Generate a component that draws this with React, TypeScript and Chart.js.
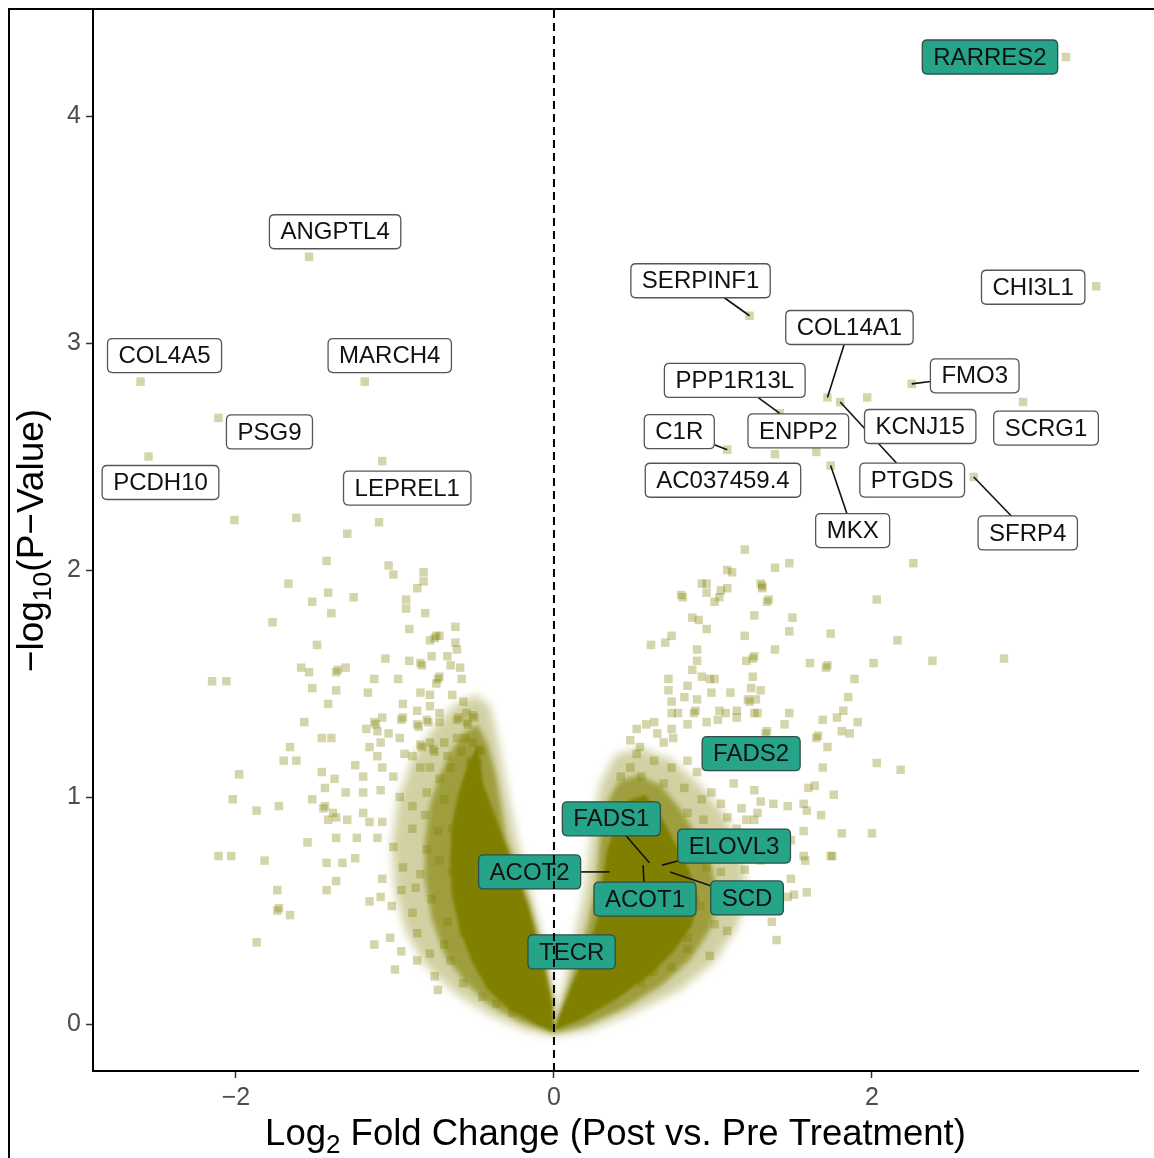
import { useEffect, useRef } from 'react';
import { Chart, registerables } from 'chart.js';

Chart.register(...registerables);

const FONT = '"Liberation Sans", Arial, Helvetica, sans-serif';

// Axis extents and tick values
const xRange = [-2.899, 3.673];
const yRange = [-0.207, 4.467];
const xTicks = [-2, 0, 2];
const yTicks = [0, 1, 2, 3, 4];

// Individual genes: [log2 fold change, -log10 p]
const leftGenes: [number, number][] = [
  [-2.01, 2.22], [-1.62, 2.23], [-1.30, 2.16], [-1.10, 2.21],
  [-1.43, 2.04], [-1.67, 1.94], [-1.42, 1.90], [-1.52, 1.86], [-1.40, 1.81], [-1.77, 1.77], [-1.49, 1.67],
  [-2.15, 1.51], [-2.06, 1.51], [-1.59, 1.57], [-1.54, 1.55], [-1.37, 1.55], [-1.36, 1.56], [-1.52, 1.48],
  [-1.37, 1.47], [-1.42, 1.41], [-1.57, 1.33], [-1.46, 1.26], [-1.40, 1.26], [-1.66, 1.22], [-1.70, 1.16],
  [-1.62, 1.16], [-1.98, 1.10], [-1.46, 1.11], [-1.38, 1.08], [-1.44, 1.04], [-2.02, 0.99], [-1.87, 0.94],
  [-1.73, 0.96], [-1.52, 0.99], [-1.45, 0.95], [-1.44, 0.96], [-1.42, 0.90], [-1.37, 0.91], [-1.55, 0.80],
  [-1.37, 0.82], [-2.11, 0.74], [-2.03, 0.74], [-1.82, 0.72], [-1.43, 0.71], [-1.37, 0.63], [-1.74, 0.59],
  [-1.43, 0.59], [-1.74, 0.50], [-1.73, 0.51], [-1.66, 0.48], [-1.87, 0.36],
  [-1.04, 2.02], [-1.01, 1.98], [-0.82, 1.99], [-0.82, 1.95], [-0.86, 1.92], [-1.26, 1.88], [-0.93, 1.87],
  [-0.93, 1.83], [-0.81, 1.81], [-0.91, 1.74], [-0.62, 1.75], [-0.74, 1.71], [-0.75, 1.70], [-0.78, 1.69],
  [-0.72, 1.71], [-0.62, 1.68], [-0.61, 1.65], [-1.06, 1.61], [-0.91, 1.60], [-0.84, 1.59], [-0.83, 1.58],
  [-0.77, 1.62], [-0.67, 1.62], [-0.65, 1.58], [-0.59, 1.57], [-1.31, 1.57], [-1.13, 1.52], [-0.98, 1.52],
  [-0.58, 1.52], [-0.73, 1.52], [-0.72, 1.53], [-0.74, 1.50], [-1.17, 1.46], [-0.84, 1.46], [-0.78, 1.45],
  [-0.64, 1.45], [-0.95, 1.41], [-0.78, 1.40], [-0.57, 1.42], [-0.86, 1.38], [-0.72, 1.37], [-0.60, 1.35],
  [-0.61, 1.34], [-0.55, 1.37], [-0.51, 1.36], [-0.50, 1.35], [-0.96, 1.34], [-0.95, 1.35], [-1.13, 1.33],
  [-1.12, 1.32], [-1.08, 1.35], [-0.86, 1.32], [-0.85, 1.31], [-0.80, 1.34], [-0.79, 1.33], [-0.55, 1.33],
  [-0.54, 1.32], [-0.72, 1.33], [-1.18, 1.30], [-1.04, 1.28], [-1.11, 1.29], [-0.97, 1.26], [-0.78, 1.24],
  [-0.69, 1.24], [-0.61, 1.26], [-0.56, 1.26], [-0.51, 1.24], [-1.09, 1.24], [-0.84, 1.23], [-0.83, 1.22],
  [-0.76, 1.21], [-0.75, 1.20], [-0.47, 1.21], [-0.46, 1.20], [-1.16, 1.22], [-0.94, 1.19], [-0.89, 1.18],
  [-1.11, 1.18], [-0.67, 1.18], [-0.58, 1.20], [-0.53, 1.15], [-0.52, 1.16], [-0.48, 1.15], [-0.49, 1.14],
  [-1.25, 1.14], [-1.08, 1.13], [-0.84, 1.13], [-0.78, 1.13], [-0.65, 1.13],
  [-1.20, 1.09], [-1.31, 1.02], [-1.20, 1.02], [-1.09, 1.03], [-1.01, 1.09], [-1.39, 0.93], [-1.30, 0.90],
  [-1.20, 0.93], [-1.16, 0.89], [-1.08, 0.89], [-1.24, 0.82], [-1.11, 0.82], [-1.01, 0.78], [-1.25, 0.73],
  [-1.33, 0.71], [-1.08, 0.64], [-1.16, 0.54], [-1.09, 0.56], [-1.02, 0.52], [-0.96, 0.59], [-0.89, 0.49],
  [-1.13, 0.35], [-1.03, 0.38], [-0.96, 0.32], [-1.00, 0.24], [-0.86, 0.28], [-0.75, 0.21], [-0.73, 0.15],
  [-0.86, 0.40], [-0.78, 0.31], [-0.89, 0.86], [-0.80, 0.77], [-0.95, 0.69], [-0.87, 0.60], [-0.89, 0.96],
  [-0.97, 1.00], [-0.80, 1.02], [-0.72, 1.08], [-0.57, 0.40], [-0.65, 0.28], [-0.57, 0.18], [-0.45, 0.12],
  [-0.36, 0.09], [-0.26, 0.05],
  [-0.69, 0.99], [-0.64, 0.86], [-0.72, 0.72], [-0.77, 0.55], [-0.67, 0.45], [-0.81, 0.92], [-0.73, 0.85],
  [-0.64, 0.67], [-0.69, 0.35], [-0.84, 0.66],
];

const rightGenes: [number, number][] = [
  [1.20, 2.09], [1.09, 2.00], [1.12, 1.99], [1.39, 2.01], [1.48, 2.03], [0.93, 1.94], [0.96, 1.94], [1.30, 1.94],
  [1.31, 1.93], [1.31, 1.92], [0.80, 1.89], [0.81, 1.88], [0.96, 1.90], [1.05, 1.91], [1.09, 1.92], [1.01, 1.86],
  [1.04, 1.88], [1.35, 1.87], [1.34, 1.86], [0.87, 1.79], [0.91, 1.78], [1.26, 1.80], [1.50, 1.79], [0.96, 1.74],
  [1.20, 1.71], [1.48, 1.73], [1.74, 1.72], [0.61, 1.67], [0.70, 1.68], [0.74, 1.71], [0.90, 1.65], [1.39, 1.65],
  [1.26, 1.62], [1.25, 1.61], [1.21, 1.60], [0.90, 1.60], [0.87, 1.56], [1.61, 1.59], [1.72, 1.58], [1.71, 1.57],
  [0.93, 1.53], [0.98, 1.52], [1.01, 1.52], [0.72, 1.52], [1.25, 1.53], [0.84, 1.49], [0.72, 1.47], [1.24, 1.48],
  [1.30, 1.47], [1.11, 1.46], [0.99, 1.46], [0.74, 1.42], [0.82, 1.44], [0.90, 1.43], [1.22, 1.43], [1.23, 1.42],
  [1.27, 1.43], [0.74, 1.37], [0.78, 1.37], [0.88, 1.37], [0.89, 1.38], [1.04, 1.38], [1.08, 1.37], [1.15, 1.38],
  [1.26, 1.37], [0.52, 1.30], [0.58, 1.32], [0.63, 1.33], [0.65, 1.28], [0.74, 1.30], [0.84, 1.32], [0.96, 1.33],
  [1.03, 1.34], [1.15, 1.35], [1.28, 1.37], [1.48, 1.37], [1.45, 1.32], [1.69, 1.34], [1.78, 1.35], [1.81, 1.29],
  [1.65, 1.26], [1.66, 1.27], [1.33, 1.28], [1.34, 1.29], [0.48, 1.25], [0.54, 1.22], [0.75, 1.26], [0.69, 1.24],
  [2.26, 2.03], [2.03, 1.87], [2.16, 1.69], [2.01, 1.59], [2.38, 1.60], [2.83, 1.61], [1.89, 1.52], [1.85, 1.44],
  [1.82, 1.38], [1.91, 1.33], [1.86, 1.28], [2.03, 1.15], [2.18, 1.12], [1.69, 1.13], [1.60, 1.04], [1.64, 1.05],
  [1.76, 1.01], [1.57, 0.97], [1.59, 0.94], [1.68, 0.92], [1.57, 0.85], [1.81, 0.84], [2.00, 0.84], [1.58, 0.72],
  [1.75, 0.74],
  [1.47, 0.96], [1.38, 0.97], [1.30, 0.98], [1.28, 0.93], [1.21, 0.90], [1.09, 0.91], [1.18, 0.95], [1.13, 1.06],
  [1.26, 1.03], [0.99, 1.02], [1.05, 0.97], [1.49, 0.81], [1.57, 0.74], [1.74, 0.74], [1.49, 0.64], [1.59, 0.58],
  [1.51, 0.57], [1.47, 0.56], [1.37, 0.45], [1.40, 0.37], [1.09, 0.41], [1.01, 0.44], [0.84, 0.38], [0.84, 0.33],
  [0.74, 0.25], [0.63, 0.23], [0.55, 0.18], [1.05, 0.67], [0.96, 0.69], [1.72, 1.22], [0.52, 1.19], [0.63, 1.16],
  [0.74, 1.13], [0.84, 1.16], [0.90, 1.11], [0.55, 1.09], [0.69, 1.06], [0.82, 1.04], [0.42, 1.09], [0.48, 1.13],
  [0.93, 0.99], [0.84, 0.93], [0.94, 0.90], [1.01, 0.84], [0.88, 0.82], [1.15, 0.86], [1.26, 0.90],
  [1.30, 0.72], [1.20, 0.68], [1.36, 0.79], [0.92, 0.52], [0.98, 0.30],
];

// Named genes
const labelNames = [
  'RARRES2', 'ANGPTL4', 'COL4A5', 'MARCH4', 'PSG9', 'PCDH10', 'LEPREL1', 'SERPINF1', 'CHI3L1',
  'COL14A1', 'FMO3', 'PPP1R13L', 'C1R', 'ENPP2', 'PTGDS', 'KCNJ15', 'SCRG1', 'AC037459.4', 'MKX',
  'SFRP4', 'FADS2', 'FADS1', 'ELOVL3', 'SCD', 'ACOT1', 'ACOT2', 'TECR',
];
const labelFC = [
  3.22, -1.54, -2.60, -1.19, -2.11, -2.55, -1.08, 1.23, 3.41,
  1.72, 2.25, 1.42, 1.09, 1.65, 1.80, 1.97, 2.95, 1.39, 1.74,
  2.64, 1.24, 0.60, 0.68, 0.73, 0.56, 0.35, 0.13,
];
const labelLogP = [
  4.26, 3.38, 2.83, 2.83, 2.67, 2.50, 2.48, 3.12, 3.25,
  2.76, 2.82, 2.69, 2.53, 2.52, 2.74, 2.76, 2.74, 2.51, 2.46,
  2.41, 1.16, 0.71, 0.70, 0.67, 0.70, 0.67, 0.30,
];
// Fatty-acid metabolism genes get the highlighted label
const lipidGenes = ['RARRES2', 'FADS2', 'FADS1', 'ELOVL3', 'SCD', 'ACOT1', 'ACOT2', 'TECR'];

// Where each label box sits relative to its gene (pixels), and whether a leader line is drawn
const labelPlacement: Record<string, { dx: number; dy: number; leader: boolean }> = {
  RARRES2: { dx: -76, dy: 0, leader: false },
  ANGPTL4: { dx: 26, dy: -25, leader: false },
  COL4A5: { dx: 24, dy: -26, leader: false },
  MARCH4: { dx: 25, dy: -26, leader: false },
  PSG9: { dx: 51, dy: 14, leader: false },
  PCDH10: { dx: 12, dy: 26, leader: false },
  LEPREL1: { dx: 25, dy: 27, leader: false },
  SERPINF1: { dx: -49, dy: -35, leader: true },
  CHI3L1: { dx: -63, dy: 1, leader: false },
  COL14A1: { dx: 22, dy: -70, leader: true },
  FMO3: { dx: 63, dy: -8, leader: true },
  PPP1R13L: { dx: -45, dy: -33, leader: true },
  C1R: { dx: -48, dy: -18, leader: true },
  ENPP2: { dx: -18, dy: -21, leader: false },
  PTGDS: { dx: 72, dy: 78, leader: true },
  KCNJ15: { dx: 53, dy: 29, leader: false },
  SCRG1: { dx: 23, dy: 26, leader: false },
  'AC037459.4': { dx: -52, dy: 26, leader: false },
  MKX: { dx: 22, dy: 65, leader: true },
  SFRP4: { dx: 54, dy: 56, leader: true },
  FADS2: { dx: 0, dy: -7, leader: false },
  FADS1: { dx: -38, dy: -44, leader: true },
  ELOVL3: { dx: 72, dy: -19, leader: true },
  SCD: { dx: 77, dy: 26, leader: true },
  ACOT1: { dx: 2, dy: 34, leader: true },
  ACOT2: { dx: -80, dy: 0, leader: true },
  TECR: { dx: -3, dy: -4, leader: false },
};

// Outlines of the overplotted part of the cloud, from sparse fringe to saturated core
const leftHalo: [number, number][] = [
  [0, -0.053], [-0.182, -0.026], [-0.403, 0.040], [-0.623, 0.137], [-0.811, 0.260], [-0.937, 0.414],
  [-1.0, 0.590], [-1.019, 0.789], [-0.981, 0.987], [-0.893, 1.163], [-0.767, 1.295], [-0.623, 1.405],
  [-0.497, 1.449], [-0.403, 1.405], [-0.352, 1.251], [-0.308, 1.075], [-0.245, 0.855], [-0.151, 0.590],
  [-0.057, 0.326], [0, 0.106],
];
const leftMid: [number, number][] = [
  [0, -0.044], [-0.214, 0.009], [-0.403, 0.084], [-0.560, 0.185], [-0.686, 0.304], [-0.767, 0.458],
  [-0.811, 0.634], [-0.811, 0.811], [-0.780, 0.965], [-0.717, 1.097], [-0.642, 1.207], [-0.560, 1.286],
  [-0.478, 1.317], [-0.415, 1.229], [-0.365, 1.097], [-0.302, 0.824], [-0.151, 0.533], [-0.069, 0.326],
  [0, 0.106],
];
const leftCore: [number, number][] = [
  [0, -0.035], [-0.119, 0], [-0.277, 0.062], [-0.415, 0.150], [-0.516, 0.273], [-0.591, 0.414],
  [-0.642, 0.568], [-0.654, 0.722], [-0.642, 0.877], [-0.604, 1.009], [-0.553, 1.119], [-0.528, 1.163],
  [-0.478, 1.229], [-0.447, 1.062], [-0.321, 0.824], [-0.170, 0.533], [-0.088, 0.326], [-0.013, 0.093],
];
const rightHalo: [number, number][] = [
  [0, -0.053], [0.226, -0.026], [0.509, 0.053], [0.792, 0.150], [1.006, 0.273], [1.151, 0.423],
  [1.214, 0.590], [1.176, 0.758], [1.075, 0.921], [0.918, 1.053], [0.742, 1.163], [0.541, 1.216],
  [0.384, 1.185], [0.289, 1.053], [0.239, 0.855], [0.195, 0.590], [0.113, 0.326], [0.025, 0.062],
];
const rightMid: [number, number][] = [
  [0, -0.044], [0.195, -0.009], [0.447, 0.070], [0.679, 0.172], [0.855, 0.282], [0.981, 0.414],
  [1.031, 0.546], [0.994, 0.687], [0.906, 0.819], [0.792, 0.952], [0.667, 1.053], [0.528, 1.097],
  [0.403, 1.066], [0.327, 0.965], [0.289, 0.811], [0.270, 0.634], [0.214, 0.436], [0.113, 0.216],
  [0.013, 0.018],
];
const rightCore: [number, number][] = [
  [0, -0.026], [0.119, 0.181], [0.226, 0.357], [0.289, 0.502], [0.308, 0.648], [0.340, 0.780],
  [0.403, 0.899], [0.478, 0.987], [0.572, 1.009], [0.667, 0.921], [0.761, 0.797], [0.855, 0.670],
  [0.906, 0.546], [0.868, 0.436], [0.761, 0.326], [0.604, 0.216], [0.384, 0.106], [0.164, 0.018],
];

const OLIVE = '128,128,0';

const densityPlugin = {
  id: 'densityCore',
  beforeDatasetsDraw(chart: any) {
    const { ctx, chartArea, scales } = chart;
    const sx = scales.x;
    const sy = scales.y;
    ctx.save();
    ctx.beginPath();
    ctx.rect(chartArea.left, chartArea.top, chartArea.width, chartArea.height);
    ctx.clip();
    const layers: [[number, number][], number, number][] = [
      [leftHalo, 0.36, 5],
      [rightHalo, 0.36, 5],
      [leftMid, 0.62, 2.5],
      [rightMid, 0.62, 2.5],
      [leftCore, 1, 1.5],
      [rightCore, 1, 1.5],
    ];
    for (const [outline, alpha, blur] of layers) {
      ctx.filter = `blur(${blur}px)`;
      ctx.fillStyle = `rgba(${OLIVE},${alpha})`;
      ctx.beginPath();
      outline.forEach(([vx, vy], i) => {
        const px = sx.getPixelForValue(vx);
        const py = sy.getPixelForValue(vy);
        if (i === 0) ctx.moveTo(px, py);
        else ctx.lineTo(px, py);
      });
      ctx.closePath();
      ctx.fill();
    }
    ctx.restore();
  },
};

function roundedRect(ctx: CanvasRenderingContext2D, x: number, y: number, w: number, h: number, r: number) {
  ctx.beginPath();
  ctx.moveTo(x + r, y);
  ctx.lineTo(x + w - r, y);
  ctx.quadraticCurveTo(x + w, y, x + w, y + r);
  ctx.lineTo(x + w, y + h - r);
  ctx.quadraticCurveTo(x + w, y + h, x + w - r, y + h);
  ctx.lineTo(x + r, y + h);
  ctx.quadraticCurveTo(x, y + h, x, y + h - r);
  ctx.lineTo(x, y + r);
  ctx.quadraticCurveTo(x, y, x + r, y);
  ctx.closePath();
}

const labelPlugin = {
  id: 'geneLabels',
  afterDatasetsDraw(chart: any) {
    const { ctx, chartArea, scales } = chart;
    const sx = scales.x;
    const sy = scales.y;
    ctx.save();
    ctx.font = `24px ${FONT}`;
    ctx.textAlign = 'center';
    ctx.textBaseline = 'middle';
    labelNames.forEach((name, i) => {
      const place = labelPlacement[name];
      const px = sx.getPixelForValue(labelFC[i]);
      const py = sy.getPixelForValue(labelLogP[i]);
      const cx = px + place.dx;
      const cy = py + place.dy;
      const hw = ctx.measureText(name).width / 2 + 11;
      const hh = 17;
      if (place.leader) {
        const vx = px - cx;
        const vy = py - cy;
        const t = Math.min(hw / Math.max(Math.abs(vx), 1e-6), hh / Math.max(Math.abs(vy), 1e-6));
        if (t < 1) {
          ctx.strokeStyle = '#111';
          ctx.lineWidth = 1.6;
          ctx.beginPath();
          ctx.moveTo(cx + vx * t, cy + vy * t);
          ctx.lineTo(px, py);
          ctx.stroke();
        }
      }
      const lipid = lipidGenes.includes(name);
      roundedRect(ctx, cx - hw, cy - hh, hw * 2, hh * 2, 5);
      ctx.fillStyle = lipid ? '#25a48a' : '#ffffff';
      ctx.fill();
      ctx.strokeStyle = lipid ? '#2f4f47' : '#555';
      ctx.lineWidth = 1.3;
      ctx.stroke();
      ctx.fillStyle = '#111';
      ctx.fillText(name, cx, cy + 1);
    });
    // reference line at zero fold change
    const zx = sx.getPixelForValue(0);
    ctx.strokeStyle = '#000';
    ctx.lineWidth = 2;
    ctx.setLineDash([8, 5]);
    ctx.beginPath();
    ctx.moveTo(zx, chartArea.top);
    ctx.lineTo(zx, chartArea.bottom);
    ctx.stroke();
    ctx.restore();
  },
};

function drawWithSubscript(ctx: CanvasRenderingContext2D, parts: [string, boolean][], size: number, subSize: number, subDrop: number) {
  const widths = parts.map(([t, sub]) => {
    ctx.font = `${sub ? subSize : size}px ${FONT}`;
    return ctx.measureText(t).width;
  });
  const total = widths.reduce((a, b) => a + b, 0);
  let x = -total / 2;
  parts.forEach(([t, sub], i) => {
    ctx.font = `${sub ? subSize : size}px ${FONT}`;
    ctx.fillText(t, x, sub ? subDrop : 0);
    x += widths[i];
  });
}

const titlePlugin = {
  id: 'axisTitles',
  afterDraw(chart: any) {
    const { ctx, chartArea } = chart;
    ctx.save();
    ctx.fillStyle = '#000';
    ctx.textAlign = 'left';
    ctx.textBaseline = 'alphabetic';
    ctx.translate((chartArea.left + chartArea.right) / 2, 1135);
    drawWithSubscript(ctx, [['Log', false], ['2', true], [' Fold Change (Post vs. Pre Treatment)', false]], 36.5, 26, 8);
    ctx.restore();
    ctx.save();
    ctx.fillStyle = '#000';
    ctx.textAlign = 'left';
    ctx.textBaseline = 'alphabetic';
    ctx.translate(33, (chartArea.top + chartArea.bottom) / 2);
    ctx.rotate(-Math.PI / 2);
    drawWithSubscript(ctx, [['\u2212log', false], ['10', true], ['(P\u2212Value)', false]], 37, 26.5, 8);
    ctx.restore();
  },
};

const fmtTick = (v: number) => (v < 0 ? '\u2212' + Math.abs(v) : String(v));

const zeroPadding = (s: any) => {
  s.paddingTop = 0;
  s.paddingBottom = 0;
  s.paddingLeft = 0;
  s.paddingRight = 0;
};

export default function App() {
  const canvasRef = useRef<HTMLCanvasElement | null>(null);

  useEffect(() => {
    const canvas = canvasRef.current;
    if (!canvas) return;
    const points = [...leftGenes, ...rightGenes, ...labelFC.map((fc, i) => [fc, labelLogP[i]] as [number, number])];
    const tickFont = { family: FONT, size: 25 };
    const chart = new Chart(canvas, {
      type: 'scatter',
      data: {
        datasets: [
          {
            data: points.map(([x, y]) => ({ x, y })),
            pointStyle: 'rect',
            pointRadius: 6,
            pointHoverRadius: 6,
            backgroundColor: `rgba(${OLIVE},0.33)`,
            borderWidth: 0,
          },
        ],
      },
      options: {
        responsive: false,
        animation: false,
        devicePixelRatio: 1,
        events: [],
        layout: { autoPadding: false, padding: { left: 0, right: 16, top: 0, bottom: 0 } },
        plugins: { legend: { display: false }, tooltip: { enabled: false } },
        scales: {
          x: {
            type: 'linear',
            min: xRange[0],
            max: xRange[1],
            afterBuildTicks: (s: any) => {
              s.ticks = xTicks.map((value) => ({ value }));
            },
            afterFit: (s: any) => {
              s.height = 87;
              zeroPadding(s);
            },
            grid: { drawOnChartArea: false, drawTicks: true, tickLength: 7, tickColor: '#333', tickWidth: 1.5 },
            border: { display: true, color: '#000', width: 2 },
            ticks: { font: tickFont, color: '#4d4d4d', padding: 5, maxRotation: 0, autoSkip: false, callback: (v: any) => fmtTick(Number(v)) },
          },
          y: {
            type: 'linear',
            min: yRange[0],
            max: yRange[1],
            afterBuildTicks: (s: any) => {
              s.ticks = yTicks.map((value) => ({ value }));
            },
            afterFit: (s: any) => {
              s.width = 83;
              zeroPadding(s);
            },
            grid: { drawOnChartArea: false, drawTicks: true, tickLength: 7, tickColor: '#333', tickWidth: 1.5 },
            border: { display: true, color: '#000', width: 2 },
            ticks: { font: tickFont, color: '#4d4d4d', padding: 5, autoSkip: false, callback: (v: any) => fmtTick(Number(v)) },
          },
        },
      },
      plugins: [densityPlugin, labelPlugin, titlePlugin],
    } as any);
    return () => chart.destroy();
  }, []);

  return (
    <div
      style={{
        position: 'fixed',
        left: 8,
        top: 8,
        borderLeft: '2px solid #000',
        borderTop: '2px solid #000',
        background: '#fff',
      }}
    >
      <canvas ref={canvasRef} width={1144} height={1148} style={{ display: 'block', width: 1144, height: 1148 }} />
    </div>
  );
}
